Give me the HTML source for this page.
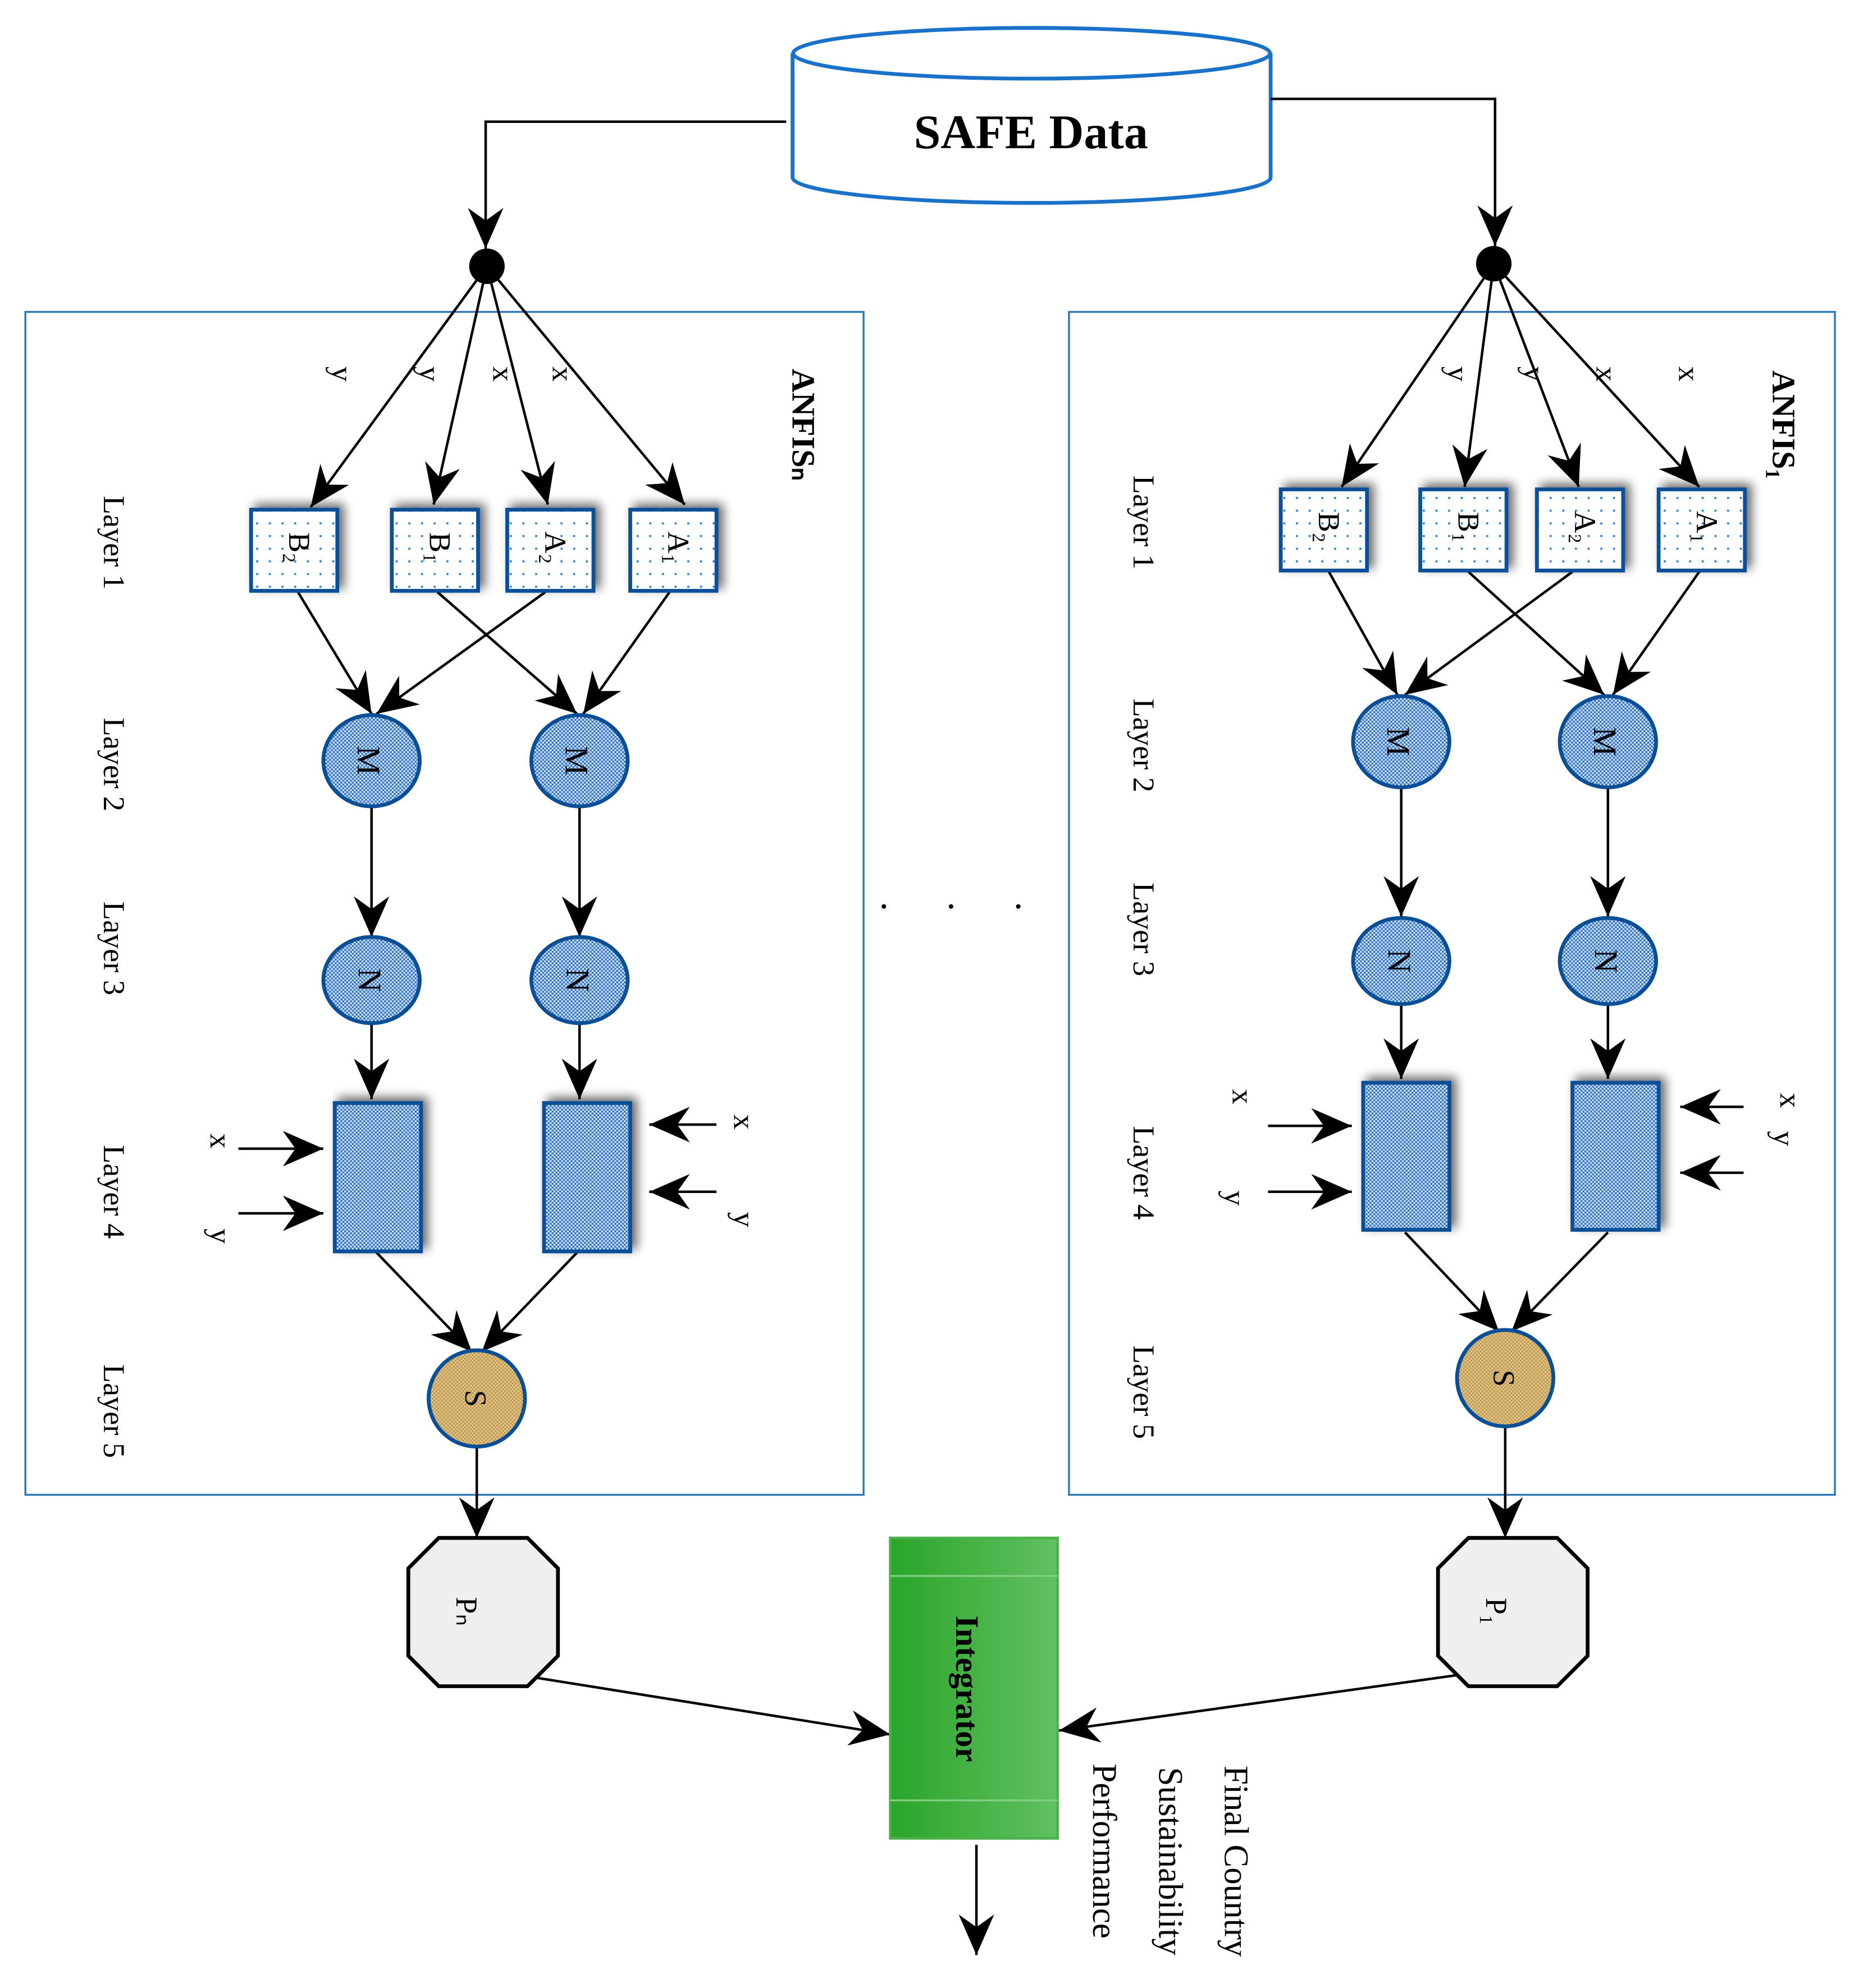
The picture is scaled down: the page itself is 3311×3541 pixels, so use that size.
<!DOCTYPE html>
<html><head><meta charset="utf-8"><style>html,body{margin:0;padding:0;background:#fff}svg{display:block}</style></head>
<body>
<svg width="3311" height="3541" viewBox="0 0 1466 1568" preserveAspectRatio="none" xmlns="http://www.w3.org/2000/svg" font-family="'Liberation Serif', serif">
<defs>
<marker id="ah" markerUnits="userSpaceOnUse" markerWidth="40" markerHeight="40" viewBox="0 0 40 40" refX="36" refY="20" orient="auto">
<path d="M36,20 L4,6 L14,20 L4,34 Z" fill="#000"/>
</marker>
<pattern id="dots" width="10" height="10" patternUnits="userSpaceOnUse"><rect width="10" height="10" fill="#fff"/><rect x="2" y="2" width="1.6" height="1.6" fill="#2a7fd4"/></pattern>
<pattern id="chk" width="3" height="3" patternUnits="userSpaceOnUse"><rect width="3" height="3" fill="#cfe0f3"/><rect width="1.5" height="1.5" fill="#2f72c0"/><rect x="1.5" y="1.5" width="1.5" height="1.5" fill="#2f72c0"/></pattern>
<pattern id="tan" width="3" height="3" patternUnits="userSpaceOnUse"><rect width="3" height="3" fill="#e2c58a"/><rect width="1.5" height="1.5" fill="#c09a50"/><rect x="1.5" y="1.5" width="1.5" height="1.5" fill="#c09a50"/></pattern>
<linearGradient id="grn" x1="0" x2="1" y1="0" y2="0"><stop offset="0" stop-color="#2aa52a"/><stop offset="1" stop-color="#62c062"/></linearGradient>
<filter id="sh" x="-30%" y="-30%" width="160%" height="160%"><feGaussianBlur in="SourceAlpha" stdDeviation="4"/><feOffset dx="4" dy="-3"/><feComponentTransfer><feFuncA type="linear" slope="0.6"/></feComponentTransfer><feMerge><feMergeNode/><feMergeNode in="SourceGraphic"/></feMerge></filter>
</defs>

<!-- cylinder -->
<path d="M625,42 L625,140 A188,20 0 0 0 1002,140 L1002,42" fill="#fff" stroke="#1a72c8" stroke-width="3"/>
<ellipse cx="813.5" cy="42" rx="188" ry="20" fill="#fff" stroke="#1a72c8" stroke-width="3"/>
<text x="813" y="117" font-size="38" font-weight="bold" text-anchor="middle">SAFE Data</text>

<g stroke="#000" stroke-width="2" fill="none">
<polyline points="620,96 383,96 383,196" marker-end="url(#ah)"/>
<polyline points="1002,78 1179,78 1179,194" marker-end="url(#ah)"/>
</g>
<circle cx="384" cy="210" r="14" fill="#000"/>
<circle cx="1178" cy="208" r="14" fill="#000"/>

<rect x="20" y="246" width="661" height="933" fill="none" stroke="#2e75b6" stroke-width="1.5"/>
<rect x="843" y="246" width="604" height="933" fill="none" stroke="#2e75b6" stroke-width="1.5"/>

<!-- connectors -->
<g stroke="#000" stroke-width="2" fill="none" marker-end="url(#ah)">
<line x1="384" y1="210" x2="245" y2="400"/><line x1="384" y1="210" x2="342" y2="398"/>
<line x1="384" y1="210" x2="432" y2="398"/><line x1="384" y1="210" x2="540" y2="398"/>
<line x1="235" y1="467" x2="293" y2="563"/><line x1="430" y1="467" x2="297" y2="563"/>
<line x1="345" y1="467" x2="455" y2="563"/><line x1="528" y1="467" x2="460" y2="563"/>
<line x1="293" y1="637" x2="293" y2="739"/><line x1="457" y1="637" x2="457" y2="739"/>
<line x1="293" y1="807" x2="293" y2="867"/><line x1="457" y1="807" x2="457" y2="867"/>
<line x1="188" y1="906" x2="255" y2="906"/><line x1="188" y1="957" x2="255" y2="957"/>
<line x1="565" y1="887" x2="512" y2="887"/><line x1="565" y1="940" x2="512" y2="940"/>
<line x1="297" y1="988" x2="372" y2="1066"/><line x1="455" y1="988" x2="380" y2="1066"/>
<line x1="376" y1="1141" x2="376" y2="1213"/>
<line x1="415" y1="1322" x2="702" y2="1368"/>

<line x1="1178" y1="208" x2="1058" y2="384"/><line x1="1178" y1="208" x2="1155" y2="384"/>
<line x1="1178" y1="208" x2="1245" y2="384"/><line x1="1178" y1="208" x2="1340" y2="384"/>
<line x1="1048" y1="451" x2="1102" y2="548"/><line x1="1240" y1="451" x2="1108" y2="548"/>
<line x1="1158" y1="451" x2="1265" y2="548"/><line x1="1340" y1="451" x2="1272" y2="548"/>
<line x1="1105" y1="622" x2="1105" y2="723"/><line x1="1268" y1="622" x2="1268" y2="723"/>
<line x1="1105" y1="792" x2="1105" y2="851"/><line x1="1268" y1="792" x2="1268" y2="851"/>
<line x1="1000" y1="888" x2="1066" y2="888"/><line x1="1000" y1="940" x2="1066" y2="940"/>
<line x1="1375" y1="873" x2="1325" y2="873"/><line x1="1375" y1="925" x2="1325" y2="925"/>
<line x1="1108" y1="972" x2="1182" y2="1050"/><line x1="1268" y1="972" x2="1192" y2="1050"/>
<line x1="1187" y1="1125" x2="1187" y2="1213"/>
<line x1="1158" y1="1320" x2="835" y2="1365"/>
<line x1="770" y1="1455" x2="770" y2="1542"/>
</g>

<!-- squares -->
<g stroke="#0a4f96" stroke-width="3" fill="url(#dots)" filter="url(#sh)">
<rect x="198" y="402" width="68" height="64"/><rect x="309" y="402" width="68" height="64"/>
<rect x="400" y="402" width="68" height="64"/><rect x="497" y="402" width="68" height="64"/>
<rect x="1010" y="386" width="68" height="64"/><rect x="1120" y="386" width="68" height="64"/>
<rect x="1212" y="386" width="68" height="64"/><rect x="1308" y="386" width="68" height="64"/>
</g>
<!-- circles -->
<g stroke="#0a4f96" stroke-width="3" fill="url(#chk)">
<ellipse cx="293" cy="600" rx="38" ry="36"/><ellipse cx="457" cy="600" rx="38" ry="36"/>
<ellipse cx="293" cy="773" rx="38" ry="34"/><ellipse cx="457" cy="773" rx="38" ry="34"/>
<ellipse cx="1105" cy="585" rx="38" ry="36"/><ellipse cx="1268" cy="585" rx="38" ry="36"/>
<ellipse cx="1105" cy="758" rx="38" ry="34"/><ellipse cx="1268" cy="758" rx="38" ry="34"/>
</g>
<g stroke="#0a4f96" stroke-width="3" fill="url(#chk)" filter="url(#sh)">
<rect x="264" y="870" width="68" height="117"/><rect x="429" y="870" width="68" height="117"/>
<rect x="1075" y="854" width="68" height="116"/><rect x="1240" y="854" width="68" height="116"/>
</g>
<g stroke="#0a4f96" stroke-width="3" fill="url(#tan)">
<circle cx="376" cy="1103" r="38"/><circle cx="1187" cy="1087" r="38"/>
</g>
<!-- octagons -->
<g fill="#efefef" stroke="#000" stroke-width="3">
<polygon points="346,1213 416,1213 440,1237 440,1306 416,1330 346,1330 322,1306 322,1237"/>
<polygon points="1158,1213 1228,1213 1252,1237 1252,1306 1228,1330 1158,1330 1134,1306 1134,1237"/>
</g>
<!-- integrator -->
<rect x="702" y="1213" width="132" height="237" fill="url(#grn)" stroke="#4cb04c" stroke-width="2"/>
<line x1="702" y1="1243" x2="834" y2="1243" stroke="#7fd07f" stroke-width="1.5"/>
<line x1="702" y1="1420" x2="834" y2="1420" stroke="#7fd07f" stroke-width="1.5"/>

<!-- rotated labels -->
<g font-size="24" text-anchor="middle">
<text transform="translate(754,1332) rotate(90)" font-weight="bold" font-size="26">Integrator</text>
<text transform="translate(625,335) rotate(90)" font-weight="bold" font-size="26">ANFISₙ</text>
<text transform="translate(1398,335) rotate(90)" font-weight="bold" font-size="26">ANFIS₁</text>
<text transform="translate(82,428) rotate(90)">Layer 1</text>
<text transform="translate(82,603) rotate(90)">Layer 2</text>
<text transform="translate(82,748) rotate(90)">Layer 3</text>
<text transform="translate(82,940) rotate(90)">Layer 4</text>
<text transform="translate(82,1113) rotate(90)">Layer 5</text>
<text transform="translate(894,412) rotate(90)">Layer 1</text>
<text transform="translate(894,588) rotate(90)">Layer 2</text>
<text transform="translate(894,733) rotate(90)">Layer 3</text>
<text transform="translate(894,925) rotate(90)">Layer 4</text>
<text transform="translate(894,1098) rotate(90)">Layer 5</text>
<text transform="translate(966,1468) rotate(90)" font-size="27">Final Country</text>
<text transform="translate(914,1468) rotate(90)" font-size="27">Sustainability</text>
<text transform="translate(862,1460) rotate(90)" font-size="27">Performance</text>
<text transform="translate(360,1271) rotate(90)">Pₙ</text>
<text transform="translate(1172,1271) rotate(90)">P₁</text>
<text transform="translate(282,600) rotate(90)" font-size="26">M</text>
<text transform="translate(446,600) rotate(90)" font-size="26">M</text>
<text transform="translate(1094,585) rotate(90)" font-size="26">M</text>
<text transform="translate(1257,585) rotate(90)" font-size="26">M</text>
<text transform="translate(283,773) rotate(90)" font-size="26">N</text>
<text transform="translate(447,773) rotate(90)" font-size="26">N</text>
<text transform="translate(1095,758) rotate(90)" font-size="26">N</text>
<text transform="translate(1258,758) rotate(90)" font-size="26">N</text>
<text transform="translate(367,1103) rotate(90)">S</text>
<text transform="translate(1178,1087) rotate(90)">S</text>
<text transform="translate(228,432) rotate(90)">B₂</text>
<text transform="translate(339,432) rotate(90)">B₁</text>
<text transform="translate(430,432) rotate(90)">A₂</text>
<text transform="translate(527,432) rotate(90)">A₁</text>
<text transform="translate(1040,416) rotate(90)">B₂</text>
<text transform="translate(1150,416) rotate(90)">B₁</text>
<text transform="translate(1242,416) rotate(90)">A₂</text>
<text transform="translate(1338,416) rotate(90)">A₁</text>
<text transform="translate(262,295) rotate(90)">y</text>
<text transform="translate(331,295) rotate(90)">y</text>
<text transform="translate(389,295) rotate(90)">x</text>
<text transform="translate(436,295) rotate(90)">x</text>
<text transform="translate(1142,295) rotate(90)">y</text>
<text transform="translate(1202,295) rotate(90)">y</text>
<text transform="translate(1259,295) rotate(90)">x</text>
<text transform="translate(1324,295) rotate(90)">x</text>
<text transform="translate(166,900) rotate(90)">x</text>
<text transform="translate(166,975) rotate(90)">y</text>
<text transform="translate(579,885) rotate(90)">x</text>
<text transform="translate(579,962) rotate(90)">y</text>
<text transform="translate(972,865) rotate(90)">x</text>
<text transform="translate(966,945) rotate(90)">y</text>
<text transform="translate(1404,868) rotate(90)">x</text>
<text transform="translate(1399,898) rotate(90)">y</text>
</g>
<g fill="#000"><circle cx="697" cy="715" r="1.8"/><circle cx="750" cy="715" r="1.8"/><circle cx="803" cy="715" r="1.8"/></g>
</svg>
</body></html>
